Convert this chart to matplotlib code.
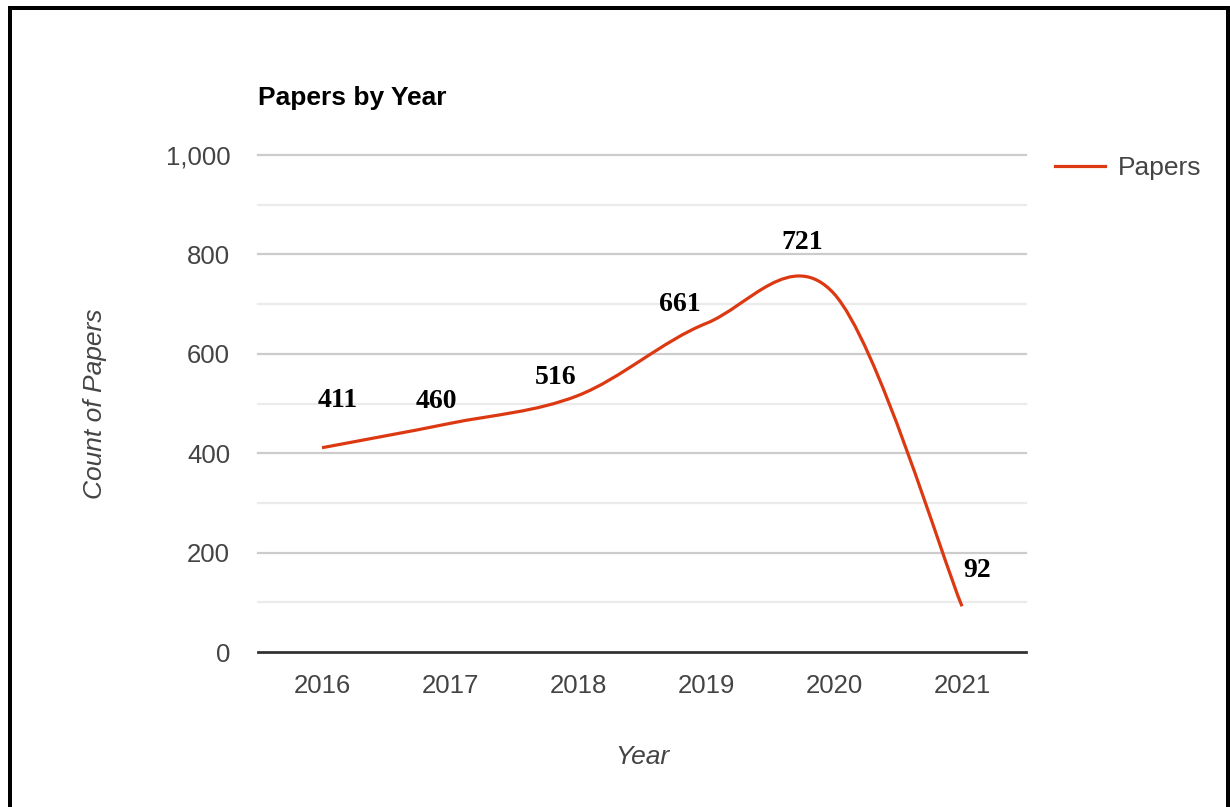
import matplotlib
matplotlib.use("Agg")
import matplotlib.pyplot as plt
from matplotlib.path import Path
from matplotlib.patches import PathPatch, Rectangle
from matplotlib.lines import Line2D

years = ["2016", "2017", "2018", "2019", "2020", "2021"]
papers = [411, 460, 516, 661, 721, 92]
# label offsets (points) relative to each data point
label_offsets = [(11, 34), (-10, 16), (-16, 13), (-19, 14), (-23, 37), (11, 26)]

W, H = 1230, 807
fig = plt.figure(figsize=(W / 100, H / 100), dpi=100)
ax = fig.add_axes([258 / W, 1 - 652 / H, (1026 - 258) / W, (652 - 155) / H])

sans = ["Liberation Sans", "DejaVu Sans"]
serif = ["Liberation Serif", "DejaVu Serif"]
line_color = "#dc3912"
text_gray = "#444444"

x = list(range(len(years)))
ax.set_xlim(-0.5, len(years) - 0.5)
ax.set_ylim(0, 1000)

# gridlines: major every 200, minor every 100
for v in range(100, 1001, 100):
    major = v % 200 == 0
    ax.axhline(v, color="#cccccc" if major else "#ebebeb", lw=1.6, zorder=0, clip_on=False)
ax.axhline(0, color="#333333", lw=2.0, zorder=1, clip_on=False)

# smooth curve through the data (Catmull-Rom as cubic Bezier)
pts = list(zip(x, papers))
n = len(pts)
verts = [pts[0]]
codes = [Path.MOVETO]
for i in range(n - 1):
    p0 = pts[max(i - 1, 0)]
    p1 = pts[i]
    p2 = pts[i + 1]
    p3 = pts[min(i + 2, n - 1)]
    c1 = (p1[0] + (p2[0] - p0[0]) / 6, p1[1] + (p2[1] - p0[1]) / 6)
    c2 = (p2[0] - (p3[0] - p1[0]) / 6, p2[1] - (p3[1] - p1[1]) / 6)
    verts += [c1, c2, p2]
    codes += [Path.CURVE4] * 3
ax.add_patch(PathPatch(Path(verts, codes), fill=False, edgecolor=line_color,
                       lw=2.3, capstyle="butt", joinstyle="round", zorder=3))

for xi, v, off in zip(x, papers, label_offsets):
    ax.annotate(str(v), (xi, v), xytext=off, textcoords="offset points",
                ha="center", va="center", fontsize=20, fontweight="bold",
                family=serif, color="black", zorder=4)

ax.set_xticks(x)
ax.set_xticklabels(years)
ax.set_yticks(range(0, 1001, 200))
ax.set_yticklabels([f"{v:,}" for v in range(0, 1001, 200)])
ax.tick_params(axis="both", length=0, labelsize=18.5, labelcolor=text_gray)
ax.tick_params(axis="y", pad=20)
ax.tick_params(axis="x", pad=16)
for lab in ax.get_xticklabels() + ax.get_yticklabels():
    lab.set_family(sans)
for s in ax.spines.values():
    s.set_visible(False)

ax.set_xlabel("Year", fontsize=19, style="italic", family=sans, color=text_gray, labelpad=34)
ax.set_ylabel("Count of Papers", fontsize=19, style="italic", family=sans, color=text_gray, labelpad=42)

fig.text(258 / W, 1 - 98 / H, "Papers by Year", fontsize=19, fontweight="bold",
         family=sans, color="black", ha="left", va="center")

handle = Line2D([], [], color=line_color, lw=2.3)
fig.legend([handle], ["Papers"], loc="center left", bbox_to_anchor=(1055 / W, 1 - 168 / H),
           frameon=False, borderpad=0, borderaxespad=0, handlelength=1.9, handletextpad=0.5,
           prop={"family": sans, "size": 19}, labelcolor=text_gray)

# black frame along the image edges
for rect in [(8, 0, 4, H - 6), (8, H - 10, W - 8, 4), (W - 4, 0, 4, H - 6)]:
    x0, y0, w, h = rect
    fig.add_artist(Rectangle((x0 / W, y0 / H), w / W, h / H, transform=fig.transFigure,
                             facecolor="black", edgecolor="none"))

fig.savefig("out.png", dpi=100, facecolor="white")
